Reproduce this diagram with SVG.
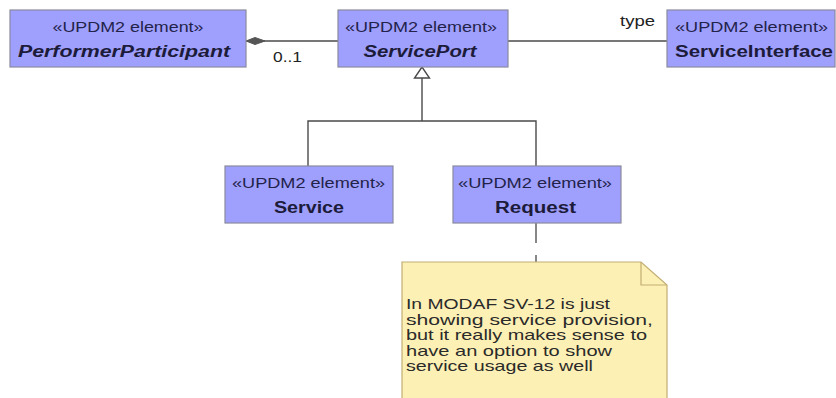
<svg xmlns="http://www.w3.org/2000/svg" width="836" height="398" viewBox="0 0 836 398">
<defs>
<style>
.box{fill:#9f9ffd;stroke:#8a8aa0;stroke-width:1.2}
.st{font-family:"Liberation Sans",Arial,sans-serif;font-size:15.5px;fill:#23234a;text-anchor:middle}
.nm{font-family:"Liberation Sans",Arial,sans-serif;font-size:16px;font-weight:bold;fill:#1c1c3a;text-anchor:middle}
.it{font-style:italic}
.ln{stroke:#4a4a4a;stroke-width:1.4;fill:none}
.lbl{font-family:"Liberation Sans",Arial,sans-serif;font-size:15px;fill:#222}
.note{fill:#fdf0b4;stroke:#c2ad72;stroke-width:1.2}
.nt{font-family:"Liberation Sans",Arial,sans-serif;font-size:15px;fill:#2a2a2a}
</style>
</defs>
<rect width="836" height="398" fill="#ffffff"/>
<g id="connectors">
<line class="ln" x1="246" y1="41" x2="338" y2="41"/>
<polygon points="246,41 255,37.5 265,41 255,44.5" fill="#555" stroke="#555" stroke-width="1"/>
<text class="lbl" x="273" y="62" textLength="29" lengthAdjust="spacingAndGlyphs">0..1</text>
<line class="ln" x1="508" y1="41" x2="667" y2="41"/>
<text class="lbl" x="620" y="26" textLength="35" lengthAdjust="spacingAndGlyphs">type</text>
<polyline class="ln" points="308,166 308,121 536,121 536,166"/>
<line class="ln" x1="422" y1="121" x2="422" y2="78"/>
<polygon points="422,67 414.5,78 429.5,78" fill="#ffffff" stroke="#4a4a4a" stroke-width="1.4"/>
<line x1="536" y1="223" x2="536" y2="262" stroke="#555" stroke-width="1.4" stroke-dasharray="20,12"/>
</g>
<g id="PerformerParticipant">
<rect class="box" x="10" y="10" width="236" height="57"/>
<text class="st" x="128" y="32" textLength="151" lengthAdjust="spacingAndGlyphs">«UPDM2 element»</text>
<text class="nm it" x="124" y="57" textLength="212" lengthAdjust="spacingAndGlyphs">PerformerParticipant</text>
</g>
<g id="ServicePort">
<rect class="box" x="338" y="10" width="170" height="57"/>
<text class="st" x="421" y="32" textLength="152" lengthAdjust="spacingAndGlyphs">«UPDM2 element»</text>
<text class="nm it" x="420" y="57" textLength="113" lengthAdjust="spacingAndGlyphs">ServicePort</text>
</g>
<g id="ServiceInterface">
<rect class="box" x="667" y="10" width="168" height="57"/>
<text class="st" x="751.5" y="32" textLength="153" lengthAdjust="spacingAndGlyphs">«UPDM2 element»</text>
<text class="nm" x="754" y="57" textLength="158" lengthAdjust="spacingAndGlyphs">ServiceInterface</text>
</g>
<g id="Service">
<rect class="box" x="225" y="166" width="168" height="57"/>
<text class="st" x="308.5" y="188" textLength="153" lengthAdjust="spacingAndGlyphs">«UPDM2 element»</text>
<text class="nm" x="309" y="213" textLength="70" lengthAdjust="spacingAndGlyphs">Service</text>
</g>
<g id="Request">
<rect class="box" x="453" y="166" width="168" height="57"/>
<text class="st" x="535" y="188" textLength="154" lengthAdjust="spacingAndGlyphs">«UPDM2 element»</text>
<text class="nm" x="535.5" y="213" textLength="81" lengthAdjust="spacingAndGlyphs">Request</text>
</g>
<g id="Note">
<path class="note" d="M402,400 L402,262 L641,262 L667,285 L667,400"/>
<polyline points="641,262 641,285 667,285" fill="none" stroke="#c2ad72" stroke-width="1.2"/>
<text class="nt" x="406" y="309" textLength="204" lengthAdjust="spacingAndGlyphs">In MODAF SV-12 is just</text>
<text class="nt" x="406" y="324.5" textLength="247" lengthAdjust="spacingAndGlyphs">showing service provision,</text>
<text class="nt" x="406" y="340" textLength="241" lengthAdjust="spacingAndGlyphs">but it really makes sense to</text>
<text class="nt" x="406" y="355.5" textLength="206" lengthAdjust="spacingAndGlyphs">have an option to show</text>
<text class="nt" x="406" y="371" textLength="187" lengthAdjust="spacingAndGlyphs">service usage as well</text>
</g>
</svg>
